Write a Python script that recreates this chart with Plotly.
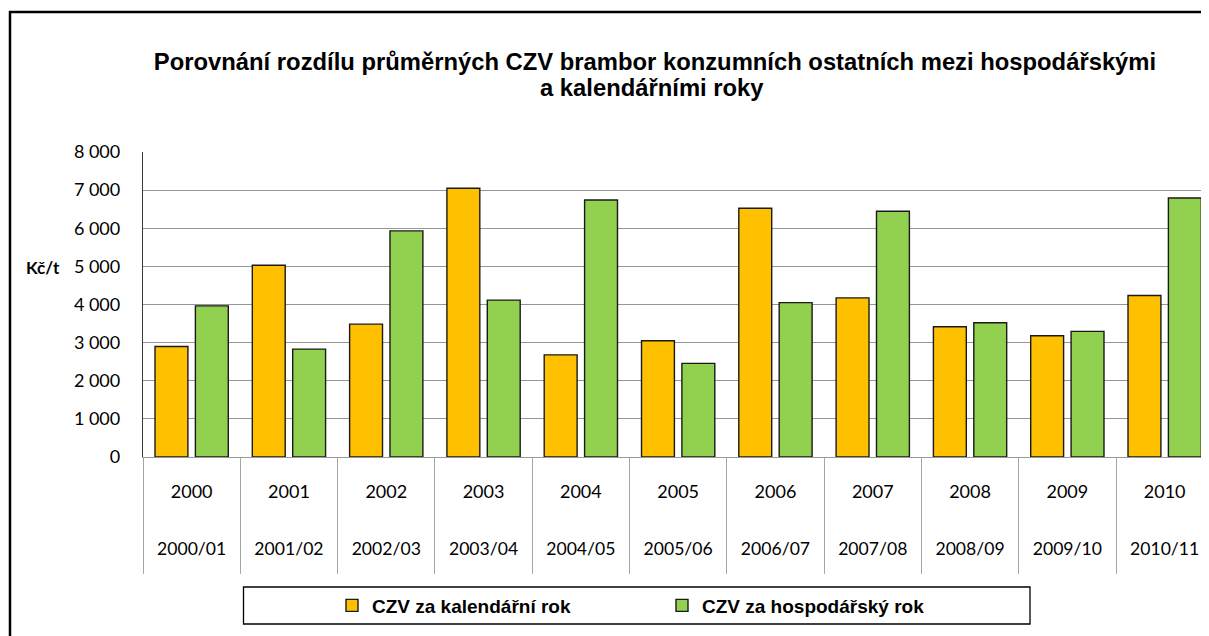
import plotly.graph_objects as go

years = ["2000", "2001", "2002", "2003", "2004", "2005", "2006", "2007", "2008", "2009", "2010"]
seasons = ["2000/01", "2001/02", "2002/03", "2003/04", "2004/05", "2005/06",
           "2006/07", "2007/08", "2008/09", "2009/10", "2010/11"]
calendar_year = [2900, 5030, 3485, 7050, 2680, 3050, 6525, 4175, 3415, 3180, 4235]
economic_year = [3965, 2830, 5930, 4115, 6740, 2455, 4050, 6445, 3520, 3295, 6795]
series_names = ["CZV za kalendářní rok", "CZV za hospodářský rok"]
y_ticks = [0, 1000, 2000, 3000, 4000, 5000, 6000, 7000, 8000]
y_ticktext = ["0", "1\u00a0000", "2\u00a0000", "3\u00a0000", "4\u00a0000", "5\u00a0000",
              "6\u00a0000", "7\u00a0000", "8\u00a0000"]
y_unit = "Kč/t"
title_line1 = "Porovnání rozdílu průměrných CZV brambor konzumních ostatních mezi hospodářskými"
title_line2 = "a kalendářními roky"

OFF = 8  # page body margin
W, H = 1209 - OFF, 636 - OFF
# plot area in reference-image pixels
PX0, PX1, PY0, PY1 = 143, 1209, 152, 457
L, T = PX0 - OFF, PY0 - OFF
R = W - (PX1 - OFF)
B = H - (PY1 - OFF)
pw, ph = PX1 - PX0, PY1 - PY0


def px(x):
    return (x - PX0) / pw


def py(y):
    return (PY1 - y) / ph


fig = go.Figure()
fig.add_trace(go.Bar(x=years, y=calendar_year, name=series_names[0],
                     marker=dict(color="#FFC000", line=dict(color="#1a1a1a", width=1.4))))
fig.add_trace(go.Bar(x=years, y=economic_year, name=series_names[1],
                     marker=dict(color="#92D050", line=dict(color="#1a1a1a", width=1.4))))
# helper trace for the second row of category labels
fig.add_trace(go.Scatter(x=years, y=calendar_year, xaxis="x2", mode="markers",
                         marker=dict(opacity=0), showlegend=False, hoverinfo="skip"))

cat_px = 97.3
xr = [-0.5, -0.5 + pw / cat_px]

tick_font = dict(family="Lato", size=18, color="#000")
title_font = dict(family="Liberation Sans", size=23.8, color="#000", weight="bold")

fig.update_layout(
    width=W, height=H,
    margin=dict(l=L, r=R, t=T, b=B),
    paper_bgcolor="white", plot_bgcolor="white",
    barmode="group", bargap=0.17, bargroupgap=0.185,
    title=dict(text=title_line1, x=(655 - OFF) / W, xanchor="center", xref="container",
               y=1 - (62 - OFF) / H, yanchor="middle", yref="container", font=title_font),
    xaxis=dict(type="category", range=xr, showline=True, linecolor="#999999", linewidth=1,
               ticks="outside", tickson="boundaries", ticklen=116, tickcolor="#a6a6a6", tickwidth=1,
               tickfont=tick_font, ticklabelstandoff=18, showgrid=False, fixedrange=True),
    xaxis2=dict(type="category", overlaying="x", matches="x", side="bottom",
                tickmode="array", tickvals=years, ticktext=seasons, ticks="",
                tickfont=dict(family="Lato", size=17.6, color="#000"),
                ticklabelstandoff=79, showgrid=False, showline=False),
    yaxis=dict(range=[0, 8000], tickmode="array", tickvals=y_ticks, ticktext=y_ticktext,
               showgrid=True, gridcolor="#969696", gridwidth=1, zeroline=False,
               showline=True, linecolor="#3a3a3a", linewidth=1.3, ticks="",
               tickfont=tick_font, ticklabelstandoff=18),
    legend=dict(orientation="h", x=px(332), xanchor="left", y=py(605.5), yanchor="middle",
                font=dict(family="Liberation Sans", size=19, color="#000", weight="bold"),
                entrywidth=285, entrywidthmode="pixels", borderwidth=0,
                bgcolor="rgba(0,0,0,0)", traceorder="normal"),
    annotations=[
        dict(text="<b>" + y_unit + "</b>", xref="paper", yref="paper",
             x=px(43), y=py(267), xanchor="center", yanchor="middle", showarrow=False,
             font=dict(family="Lato", size=17, color="#000")),
        dict(text=title_line2, xref="paper", yref="paper",
             x=px(652), y=py(88), xanchor="center", yanchor="middle", showarrow=False,
             font=title_font),
    ],
    shapes=[
        dict(type="rect", xref="paper", yref="paper", x0=px(243.5), x1=px(1030),
             y0=py(624), y1=py(587), line=dict(color="#000", width=1.3), layer="below"),
        dict(type="rect", xref="paper", yref="paper", x0=px(10), x1=px(1250),
             y0=py(680), y1=py(12), line=dict(color="#000", width=2.5), layer="above"),
    ],
    showlegend=True,
)

fig.write_html("out.html")
